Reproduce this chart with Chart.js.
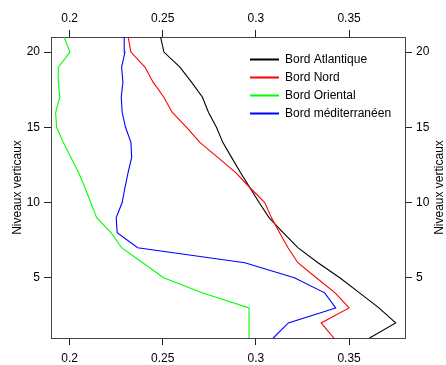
<!DOCTYPE html>
<html>
<head>
<meta charset="utf-8">
<script src="https://cdn.jsdelivr.net/npm/chart.js@4/dist/chart.umd.min.js"></script>
<style>
html, body { margin: 0; padding: 0; background: #fff; }
#c { display: block; }
</style>
</head>
<body>
<canvas id="c" width="446" height="365"></canvas>
<script>
// ---- data ----
const levels = [1, 2, 3, 4, 5, 6, 7, 8, 9, 10, 11, 12, 13, 14, 15, 16, 17, 18, 19, 20, 21];
const seriesNames = ['Bord Atlantique', 'Bord Nord', 'Bord Oriental', 'Bord méditerranéen'];
const atlantique = [0.361, 0.375, 0.366, 0.3556, 0.345, 0.3333, 0.3225, 0.3146, 0.307, 0.3017, 0.2967,
  0.2917, 0.2869, 0.2822, 0.2788, 0.2745, 0.2713, 0.2654, 0.2592, 0.2506, 0.2488];
const nord = [0.3418, 0.335, 0.35, 0.3425, 0.3324, 0.3225, 0.3172, 0.3127, 0.3083, 0.3047, 0.2967,
  0.289, 0.2795, 0.2699, 0.2628, 0.255, 0.2506, 0.2448, 0.2404, 0.2329, 0.2314];
const oriental = [0.2963, 0.2963, 0.2963, 0.2711, 0.2504, 0.2392, 0.2279, 0.2222, 0.2145, 0.2113, 0.2082,
  0.2048, 0.2007, 0.1966, 0.193, 0.1925, 0.1947, 0.194, 0.1939, 0.2002, 0.197];
const mediterraneen = [0.3093, 0.3174, 0.3428, 0.3369, 0.3206, 0.294, 0.2365, 0.2255, 0.225, 0.2282, 0.2297,
  0.2314, 0.2333, 0.2329, 0.23, 0.2282, 0.2277, 0.2286, 0.2279, 0.2297, 0.2293];
const xTicks = [0.2, 0.25, 0.3, 0.35];
const yTicks = [5, 10, 15, 20];
const yTitle = 'Niveaux verticaux';

const colors = ['#000000', '#ff0000', '#00ff00', '#0000ff'];
const allSeries = [atlantique, nord, oriental, mediterraneen];

Chart.defaults.font.family = '"Liberation Sans", Arial, Helvetica, sans-serif';
Chart.defaults.font.size = 12;
Chart.defaults.color = '#000';

const datasets = allSeries.map((vals, i) => ({
  label: seriesNames[i],
  data: levels.map((lv, j) => ({ x: vals[j], y: lv })),
  borderColor: colors[i],
  backgroundColor: colors[i],
  borderWidth: 1.1,
  pointRadius: 0,
  showLine: true,
  tension: 0,
  fill: false,
  order: seriesNames.length - i
}));

const frameColor = '#444';
function xScale(pos, h, pad) {
  return {
    type: 'linear', position: pos, min: 0.19, max: 0.38, display: true,
    afterBuildTicks: s => { s.ticks = xTicks.map(v => ({ value: v })); },
    afterFit: s => { s.height = h; },
    grid: { drawOnChartArea: false, drawTicks: true, tickLength: 7, color: '#222', lineWidth: 1 },
    border: { display: true, color: frameColor, width: 1 },
    ticks: { padding: pad, maxRotation: 0, autoSkip: false, callback: v => String(v), font: { size: 12 } }
  };
}
function yScale(pos, w, showTitle) {
  return {
    type: 'linear', position: pos, min: 1, max: 21, display: true,
    afterBuildTicks: s => { s.ticks = yTicks.map(v => ({ value: v })); },
    afterFit: s => { s.width = w; },
    grid: { drawOnChartArea: false, drawTicks: true, tickLength: 7, color: '#222', lineWidth: 1 },
    border: { display: true, color: frameColor, width: 1 },
    ticks: { padding: 4, autoSkip: false, callback: v => String(v), font: { size: 12 } },
    title: { display: showTitle, text: yTitle, padding: { top: 10, bottom: 0 }, font: { size: 12 } }
  };
}

const legendPlugin = {
  id: 'innerLegend',
  afterDraw(chart) {
    const ctx = chart.ctx;
    const a = chart.chartArea;
    ctx.save();
    ctx.font = '12px "Liberation Sans", Arial, sans-serif';
    ctx.textBaseline = 'middle';
    ctx.textAlign = 'left';
    seriesNames.forEach((name, i) => {
      const y = Math.round(a.top + 22 + i * 18);
      const x0 = Math.round(a.left + 199);
      ctx.fillStyle = colors[i];
      ctx.fillRect(x0, y - 0.5, 29, 2);
    });
    ctx.fillStyle = '#000';
    seriesNames.forEach((name, i) => {
      const y = Math.round(a.top + 22 + i * 18);
      const x0 = Math.round(a.left + 199);
      ctx.fillText(name, x0 + 35, y + 1);
    });
    ctx.restore();
  }
};

const rightTitlePlugin = {
  id: 'rightTitle',
  afterDraw(chart) {
    const ctx = chart.ctx;
    const a = chart.chartArea;
    ctx.save();
    ctx.font = '12px "Liberation Sans", Arial, sans-serif';
    ctx.fillStyle = '#000';
    ctx.textAlign = 'center';
    ctx.textBaseline = 'middle';
    ctx.translate(chart.width - 6.5, (a.top + a.bottom) / 2);
    ctx.rotate(-Math.PI / 2);
    ctx.fillText(yTitle, 0, 0);
    ctx.restore();
  }
};

new Chart(document.getElementById('c'), {
  type: 'scatter',
  data: { datasets },
  options: {
    responsive: false,
    animation: false,
    layout: { padding: 0 },
    plugins: { legend: { display: false }, tooltip: { enabled: false } },
    scales: {
      x: xScale('bottom', 27, 6),
      x2: xScale('top', 37, 4),
      y: yScale('left', 51, true),
      y2: yScale('right', 41, false)
    }
  },
  plugins: [legendPlugin, rightTitlePlugin]
});
</script>
</body>
</html>
